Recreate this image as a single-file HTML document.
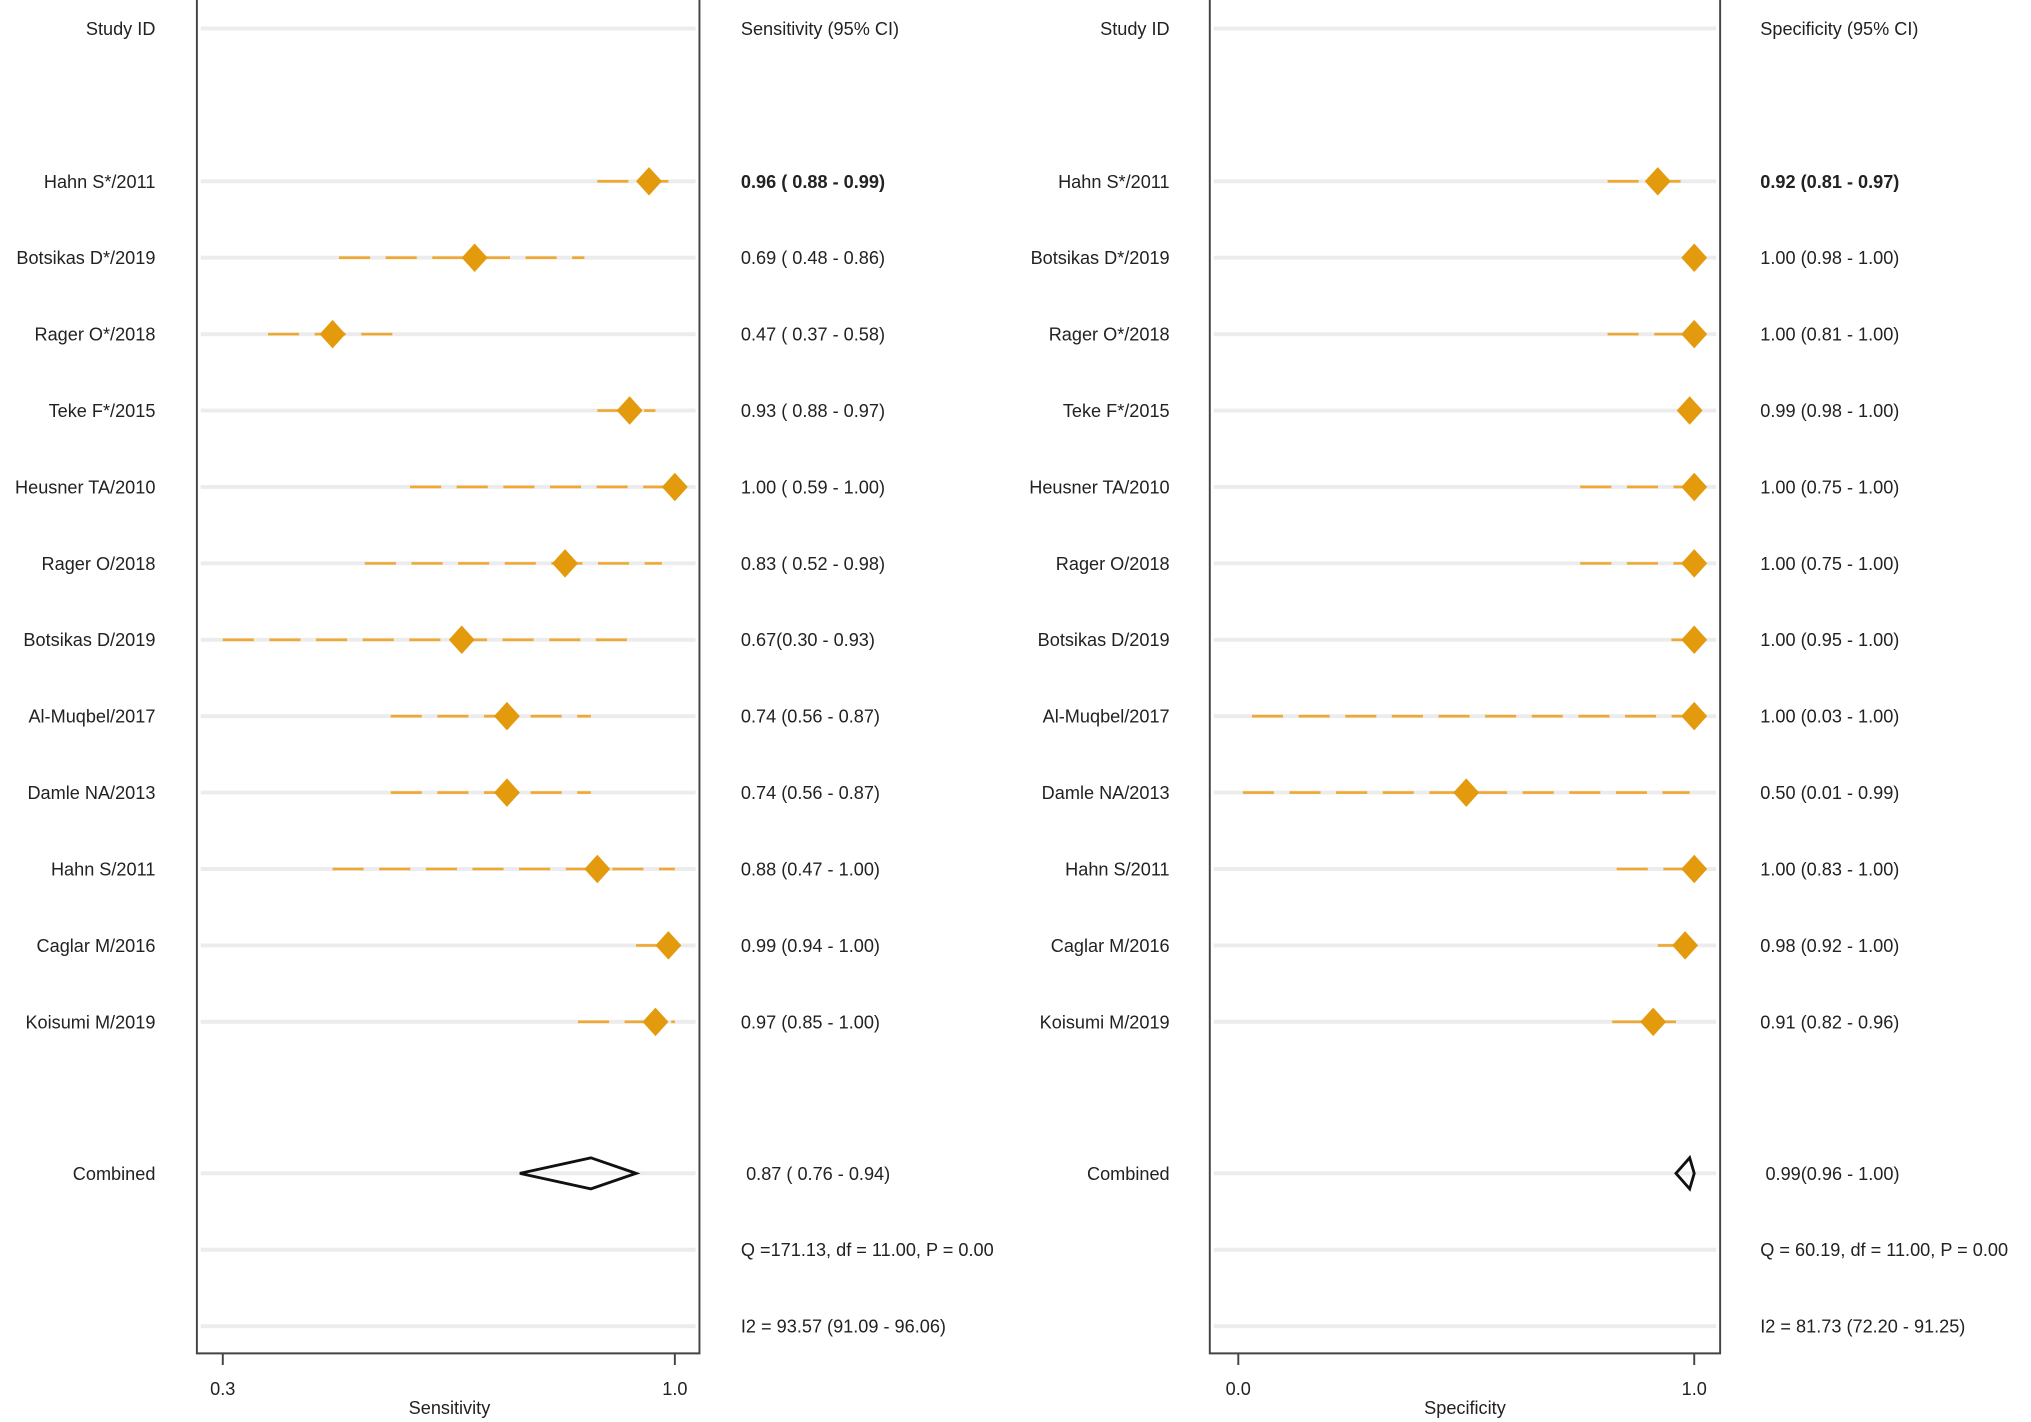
<!DOCTYPE html>
<html><head><meta charset="utf-8"><style>
html,body{margin:0;padding:0;background:#fff;}
svg{display:block;}
text{font-family:"Liberation Sans",Arial,sans-serif;fill:#222;font-size:14px;}
</style></head><body>
<svg id="chart" width="2031" height="1422" viewBox="0 0 1568 1098" preserveAspectRatio="none" xmlns="http://www.w3.org/2000/svg"></svg>
<script>
const studies = ["Hahn S*/2011","Botsikas D*/2019","Rager O*/2018","Teke F*/2015","Heusner TA/2010","Rager O/2018","Botsikas D/2019","Al-Muqbel/2017","Damle NA/2013","Hahn S/2011","Caglar M/2016","Koisumi M/2019"];
const sensEst = [0.96,0.69,0.47,0.93,1.00,0.83,0.67,0.74,0.74,0.88,0.99,0.97];
const sensLo  = [0.88,0.48,0.37,0.88,0.59,0.52,0.30,0.56,0.56,0.47,0.94,0.85];
const sensHi  = [0.99,0.86,0.58,0.97,1.00,0.98,0.93,0.87,0.87,1.00,1.00,1.00];
const sensLabels = ["0.96  ( 0.88 - 0.99)","0.69  ( 0.48 - 0.86)","0.47  ( 0.37 - 0.58)","0.93  ( 0.88 - 0.97)","1.00  ( 0.59 - 1.00)","0.83  ( 0.52 - 0.98)","0.67(0.30 - 0.93)","0.74 (0.56 - 0.87)","0.74 (0.56 - 0.87)","0.88 (0.47 - 1.00)","0.99 (0.94 - 1.00)","0.97 (0.85 - 1.00)"];
const specEst = [0.92,1.00,1.00,0.99,1.00,1.00,1.00,1.00,0.50,1.00,0.98,0.91];
const specLo  = [0.81,0.98,0.81,0.98,0.75,0.75,0.95,0.03,0.01,0.83,0.92,0.82];
const specHi  = [0.97,1.00,1.00,1.00,1.00,1.00,1.00,1.00,0.99,1.00,1.00,0.96];
const specLabels = ["0.92 (0.81 - 0.97)","1.00 (0.98 - 1.00)","1.00 (0.81 - 1.00)","0.99 (0.98 - 1.00)","1.00 (0.75 - 1.00)","1.00 (0.75 - 1.00)","1.00 (0.95 - 1.00)","1.00 (0.03 - 1.00)","0.50 (0.01 - 0.99)","1.00 (0.83 - 1.00)","0.98 (0.92 - 1.00)","0.91 (0.82 - 0.96)"];
const sensPooled = [0.87,0.76,0.94];
const specPooled = [0.99,0.96,1.00];
const sensTicks = [0.3,1.0];
const specTicks = [0.0,1.0];

const NS="http://www.w3.org/2000/svg";
const svg=document.getElementById('chart');
function mk(tag,attrs,parent){const e=document.createElementNS(NS,tag);for(const k in attrs)e.setAttribute(k,attrs[k]);(parent||svg).appendChild(e);return e;}
function rowY(i){return 140+i*59;}
const sensX=v=>172+(v-0.3)/0.7*349;
const specX=v=>956+v*352;

function panel(p){
  const g=mk('g',{});
  
  
  // gridlines
  const gy=[22].concat(studies.map((s,i)=>rowY(i)),[906,965,1024]);
  gy.forEach(y=>{const l=mk('line',{x1:p.x0+3,x2:p.x1-3,y1:y,y2:y,stroke:'#ececec','stroke-width':3},g);
    });
  // frame
  const fr=mk('path',{d:`M${p.x0} 0 V1045 H${p.x1} V0`,fill:'none',stroke:'#444','stroke-width':1.5},g);
  
  // headers
  let t=mk('text',{x:p.labX,y:27,'text-anchor':'end'},g);t.textContent='Study ID';
  
  t=mk('text',{x:p.valX,y:27},g);t.textContent=p.header;
  
  studies.forEach((s,i)=>{
    const y=rowY(i);
    let lt=mk('text',{x:p.labX,y:y+5,'text-anchor':'end'},g);lt.textContent=s;
    
    const ci=mk('line',{x1:p.sx(p.lo[i]),x2:p.sx(p.hi[i]),y1:y,y2:y,stroke:'#f0a830','stroke-width':2,'stroke-dasharray':'24 12'},g);
    
    const cx=p.sx(p.est[i]);
    const d=mk('polygon',{points:`${cx-10},${y} ${cx},${y-11} ${cx+10},${y} ${cx},${y+11}`,fill:'#e39b0d'},g);
    
    const vt=mk('text',{x:p.valX,y:y+5,'font-weight':i===0?'bold':'normal'},g);vt.textContent=p.labels[i];
    
  });
  // combined
  let ct=mk('text',{x:p.labX,y:911,'text-anchor':'end'},g);ct.textContent='Combined';
  
  const [e,l,h]=p.pooled;
  const pd=mk('polygon',{points:`${p.sx(l)},906 ${p.sx(e)},894 ${p.sx(h)},906 ${p.sx(e)},918`,fill:'none',stroke:'#111','stroke-width':2.2},g);
  
  [[911,p.comb],[970,p.q],[1029,p.i2]].forEach(([y,s],k)=>{
    const tt=mk('text',{x:p.valX+(k===0?4:0),y:y},g);tt.textContent=s;
    
  });
  p.ticks.forEach(v=>{
    const x=p.sx(v);
    const tk=mk('line',{x1:x,x2:x,y1:1045,y2:1054,stroke:'#444','stroke-width':1.5},g);
    
    const tl=mk('text',{x:x,y:1077,'text-anchor':'middle'},g);tl.textContent=v.toFixed(1);
    
  });
  const at=mk('text',{x:p.titleX,y:1092,'text-anchor':'middle','font-size':15},g);at.textContent=p.title;
  
}
panel({name:'sensitivity',x0:152,x1:540,labX:120,valX:572,header:'Sensitivity (95% CI)',sx:sensX,est:sensEst,lo:sensLo,hi:sensHi,labels:sensLabels,pooled:sensPooled,
  comb:'0.87  ( 0.76 - 0.94)',q:'Q =171.13, df = 11.00, P =  0.00',i2:'I2 = 93.57 (91.09 - 96.06)',ticks:sensTicks,title:'Sensitivity',titleX:347});
panel({name:'specificity',x0:934,x1:1328,labX:903,valX:1359,header:'Specificity (95% CI)',sx:specX,est:specEst,lo:specLo,hi:specHi,labels:specLabels,pooled:specPooled,
  comb:'0.99(0.96 - 1.00)',q:'Q = 60.19, df = 11.00, P =  0.00',i2:'I2 = 81.73 (72.20 - 91.25)',ticks:specTicks,title:'Specificity',titleX:1131});
</script>
</body></html>
